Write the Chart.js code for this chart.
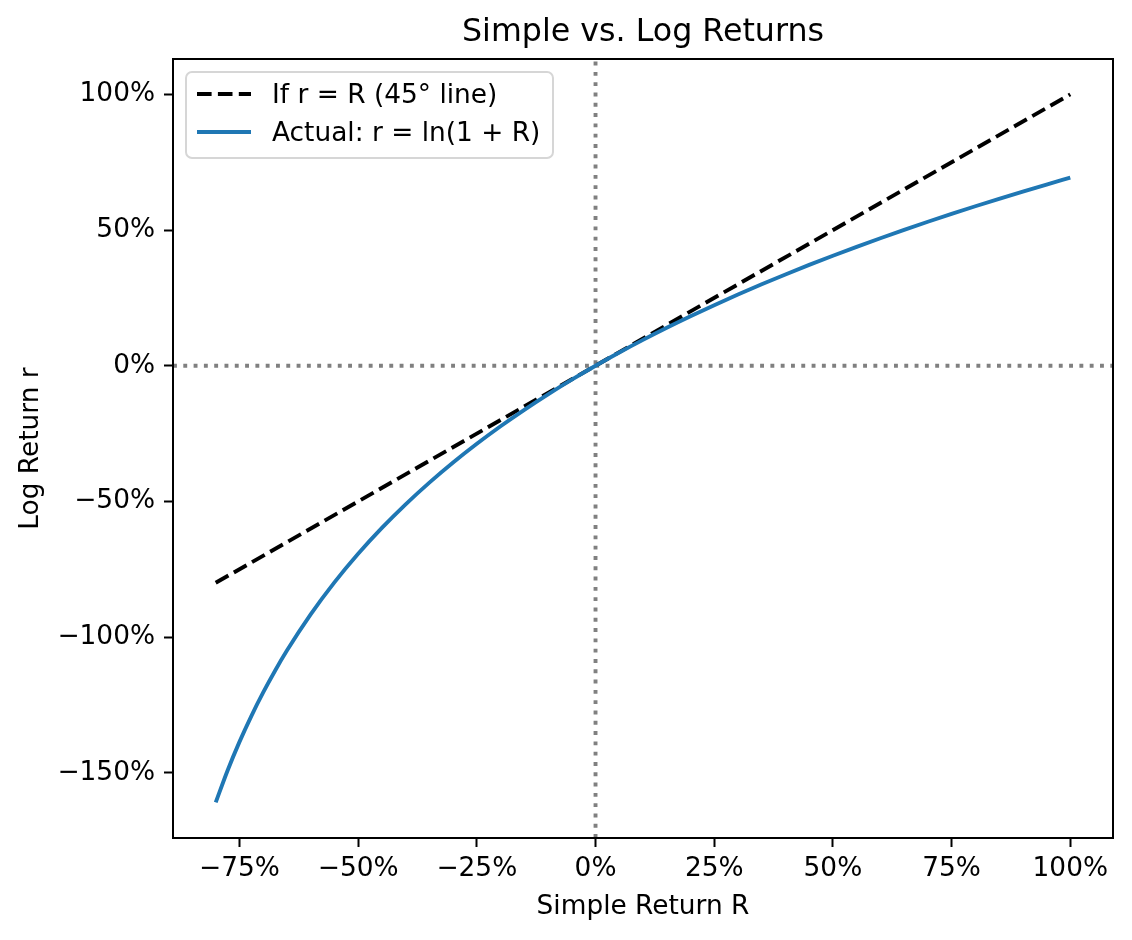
<!DOCTYPE html>
<html>
<head>
<meta charset="utf-8">
<script src="https://cdn.jsdelivr.net/npm/chart.js@4/dist/chart.umd.min.js"></script>
<style>
  body { margin: 0; background: #fff; }
  #wrap { width: 1132px; height: 940px; }
</style>
</head>
<body>
<div id="wrap"><canvas id="chart" width="1132" height="940"></canvas></div>
<script>
// ----- data -----
const simpleReturn = [-0.80, -0.775, -0.75, -0.725, -0.70, -0.675, -0.65, -0.60, -0.55, -0.50,
    -0.45, -0.40, -0.35, -0.30, -0.25, -0.20, -0.15, -0.10, -0.05, 0,
    0.05, 0.10, 0.15, 0.20, 0.25, 0.30, 0.35, 0.40, 0.45, 0.50,
    0.55, 0.60, 0.65, 0.70, 0.75, 0.80, 0.85, 0.90, 0.95, 1.00];
const logReturn = [-1.6094, -1.4917, -1.3863, -1.2910, -1.2040, -1.1239, -1.0498, -0.9163, -0.7985, -0.6931,
    -0.5978, -0.5108, -0.4308, -0.3567, -0.2877, -0.2231, -0.1625, -0.1054, -0.0513, 0,
    0.0488, 0.0953, 0.1398, 0.1823, 0.2231, 0.2624, 0.3001, 0.3365, 0.3716, 0.4055,
    0.4383, 0.4700, 0.5008, 0.5306, 0.5596, 0.5878, 0.6152, 0.6419, 0.6678, 0.6931];
const identityX = [-0.80, 1.00];
const identityY = [-0.80, 1.00];

const xTicks = [-0.75, -0.50, -0.25, 0, 0.25, 0.50, 0.75, 1.00];
const yTicks = [-1.5, -1.0, -0.5, 0, 0.5, 1.0];

const labels = {
    title: 'Simple vs. Log Returns',
    x: 'Simple Return R',
    y: 'Log Return r',
    identity: 'If r = R (45° line)',
    actual: 'Actual: r = ln(1 + R)'
};

const FONT = 'DejaVu Sans, Verdana, sans-serif';
const TXT = 26.4;
const LW = 3.9;
Chart.defaults.font.family = FONT;
Chart.defaults.color = '#000';

const pct = v => {
    const n = Math.round(v * 100);
    return (n < 0 ? '\u2212' + Math.abs(n) : String(n)) + '%';
};

// ===== plugins: reference lines, frame, texts, legend =====

const zeroLines = {
    id: 'zeroLines',
    beforeDatasetsDraw(chart) {
        const { ctx, chartArea: a, scales: { x, y } } = chart;
        const px = x.getPixelForValue(0);
        const py = y.getPixelForValue(0);
        ctx.save();
        ctx.strokeStyle = '#808080';
        ctx.lineWidth = LW;
        ctx.setLineDash([LW, 6.4]);
        ctx.beginPath();
        ctx.moveTo(px, a.bottom); ctx.lineTo(px, a.top);
        ctx.moveTo(a.left, py); ctx.lineTo(a.right, py);
        ctx.stroke();
        ctx.restore();
    }
};

const frameAndText = {
    id: 'frameAndText',
    afterDraw(chart) {
        const { ctx, chartArea: a } = chart;
        ctx.save();
        ctx.strokeStyle = '#000';
        ctx.lineWidth = 2;
        ctx.strokeRect(a.left, a.top, a.right - a.left, a.bottom - a.top);

        const cx = (a.left + a.right) / 2;
        ctx.fillStyle = '#000';
        ctx.textAlign = 'center';
        ctx.textBaseline = 'middle';
        ctx.font = '31.7px ' + FONT;
        ctx.fillText(labels.title, cx, 33);
        ctx.font = TXT + 'px ' + FONT;
        ctx.fillText(labels.x, cx, 907);
        ctx.translate(31, (a.top + a.bottom) / 2);
        ctx.rotate(-Math.PI / 2);
        ctx.fillText(labels.y, 0, 0);
        ctx.restore();

        // legend box
        ctx.save();
        const bx = 186, by = 72, bw = 367, bh = 86, r = 6;
        ctx.beginPath();
        ctx.moveTo(bx + r, by);
        ctx.arcTo(bx + bw, by, bx + bw, by + bh, r);
        ctx.arcTo(bx + bw, by + bh, bx, by + bh, r);
        ctx.arcTo(bx, by + bh, bx, by, r);
        ctx.arcTo(bx, by, bx + bw, by, r);
        ctx.closePath();
        ctx.fillStyle = 'rgba(255,255,255,0.8)';
        ctx.fill();
        ctx.strokeStyle = '#d6d6d6';
        ctx.lineWidth = 2;
        ctx.stroke();

        ctx.font = TXT + 'px ' + FONT;
        ctx.textAlign = 'left';
        ctx.textBaseline = 'middle';
        const rows = [94, 132];
        chart.data.datasets.forEach((ds, i) => {
            const ry = rows[i];
            ctx.beginPath();
            ctx.strokeStyle = ds.borderColor;
            ctx.lineWidth = ds.borderWidth;
            ctx.setLineDash(ds.borderDash || []);
            ctx.moveTo(197, ry); ctx.lineTo(251, ry);
            ctx.stroke();
            ctx.setLineDash([]);
            ctx.fillStyle = '#000';
            ctx.fillText(ds.label, 272, ry + 2);
        });
        ctx.restore();
    }
};

const axisCommon = (ticks) => ({
    type: 'linear',
    border: { display: false },
    grid: {
        drawOnChartArea: false,
        drawTicks: true,
        tickLength: 9,
        tickWidth: 2,
        tickColor: '#000'
    },
    ticks: {
        font: { size: TXT },
        color: '#000',
        callback: v => pct(v)
    },
    afterBuildTicks: scale => { scale.ticks = ticks.map(v => ({ value: v })); }
});

const xAxis = axisCommon(xTicks);
xAxis.min = -0.89;
xAxis.max = 1.09;
xAxis.ticks.padding = 6;
xAxis.ticks.maxRotation = 0;
xAxis.afterFit = s => { s.height = 102; };

const yAxis = axisCommon(yTicks);
yAxis.min = -1.7405;
yAxis.max = 1.1305;
yAxis.ticks.padding = 9;
yAxis.afterFit = s => { s.width = 173; };

new Chart(document.getElementById('chart'), {
    type: 'line',
    data: {
        datasets: [
            {
                label: labels.identity,
                data: identityX.map((x, i) => ({ x, y: identityY[i] })),
                borderColor: '#000000',
                borderWidth: LW,
                borderDash: [14.6, 6.3],
                borderCapStyle: 'butt',
                pointRadius: 0,
                fill: false,
                order: 2
            },
            {
                label: labels.actual,
                data: simpleReturn.map((x, i) => ({ x, y: logReturn[i] })),
                borderColor: '#1f77b4',
                borderWidth: LW,
                cubicInterpolationMode: 'monotone',
                pointRadius: 0,
                fill: false,
                order: 1
            }
        ]
    },
    options: {
        responsive: false,
        animation: false,
        devicePixelRatio: 1,
        layout: { padding: { top: 59, right: 19, left: 0, bottom: 0 } },
        plugins: {
            legend: { display: false },
            title: { display: false },
            tooltip: { enabled: false }
        },
        scales: { x: xAxis, y: yAxis }
    },
    plugins: [zeroLines, frameAndText]
});
</script>
</body>
</html>
